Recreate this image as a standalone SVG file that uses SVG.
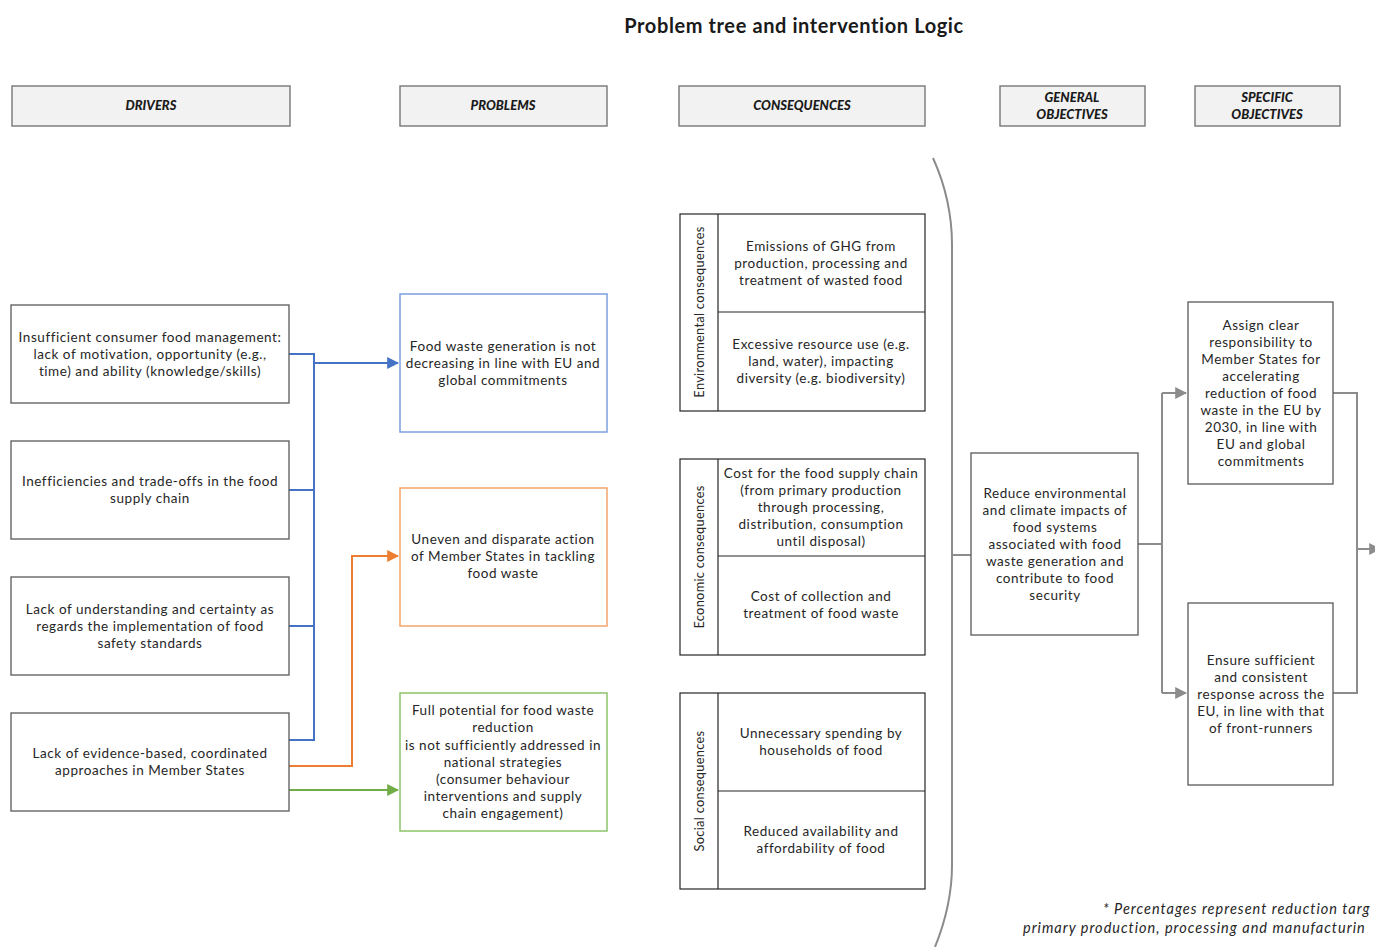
<svg xmlns="http://www.w3.org/2000/svg" width="1375" height="947" viewBox="0 0 1375 947">
<defs>
<style>
.t{font-family:Lato,"Open Sans","Liberation Sans",sans-serif;font-size:13.5px;fill:#262626;text-anchor:middle;letter-spacing:0.55px}
.v{font-family:Lato,"Open Sans","Liberation Sans",sans-serif;font-size:12.8px;fill:#262626;text-anchor:middle;letter-spacing:0.3px}
.h{font-family:Lato,"Open Sans","Liberation Sans",sans-serif;font-size:13px;font-weight:900;font-style:italic;fill:#1a1a1a;text-anchor:middle}
.hb{fill:#f2f2f2;stroke:#7f7f7f;stroke-width:1.5}
.bx{fill:#fff;stroke:#595959;stroke-width:1.3}
.cx{fill:#fff;stroke:#262626;stroke-width:1.2}
.gl{fill:none;stroke:#8c8c8c;stroke-width:2}
.bl{fill:none;stroke:#4472c4;stroke-width:2}
.or{fill:none;stroke:#ed7d31;stroke-width:2}
.gr{fill:none;stroke:#70ad47;stroke-width:2}
</style>
<marker id="ab" viewBox="0 0 10 10" refX="9" refY="5" markerWidth="6" markerHeight="6" orient="auto"><path d="M0,0L10,5L0,10z" fill="#4472c4"/></marker>
<marker id="ao" viewBox="0 0 10 10" refX="9" refY="5" markerWidth="6" markerHeight="6" orient="auto"><path d="M0,0L10,5L0,10z" fill="#ed7d31"/></marker>
<marker id="ag" viewBox="0 0 10 10" refX="9" refY="5" markerWidth="6" markerHeight="6" orient="auto"><path d="M0,0L10,5L0,10z" fill="#70ad47"/></marker>
<marker id="ay" viewBox="0 0 10 10" refX="9" refY="5" markerWidth="6" markerHeight="6" orient="auto"><path d="M0,0L10,5L0,10z" fill="#8c8c8c"/></marker>
</defs>
<rect width="1375" height="947" fill="#fff"/>
<text x="794" y="33" style="font-family:Lato,'Open Sans','Liberation Sans',sans-serif;font-size:20px;font-weight:bold;fill:#1a1a1a;text-anchor:middle;letter-spacing:0.6px">Problem tree and intervention Logic</text>

<g id="headers">
<g id="h-drivers"><rect class="hb" x="12" y="86" width="278" height="40"/><text class="h" x="151" y="110">DRIVERS</text></g>
<g id="h-problems"><rect class="hb" x="400" y="86" width="207" height="40"/><text class="h" x="503" y="110">PROBLEMS</text></g>
<g id="h-consequences"><rect class="hb" x="679" y="86" width="246" height="40"/><text class="h" x="802" y="110">CONSEQUENCES</text></g>
<g id="h-general"><rect class="hb" x="1000" y="86" width="145" height="40"/><text class="h" x="1072" y="102">GENERAL</text><text class="h" x="1072" y="119">OBJECTIVES</text></g>
<g id="h-specific"><rect class="hb" x="1195" y="86" width="145" height="40"/><text class="h" x="1267" y="102">SPECIFIC</text><text class="h" x="1267" y="119">OBJECTIVES</text></g>
</g>

<g id="connectors">
<path class="bl" d="M289,354H314V740H289M289,490H314M289,626H314"/>
<path class="bl" d="M314,363H398" marker-end="url(#ab)"/>
<path class="or" d="M289,766H352V556H398" marker-end="url(#ao)"/>
<path class="gr" d="M289,790H398" marker-end="url(#ag)"/>
<path fill="none" stroke="#8c8c8c" stroke-width="2" d="M933,158Q952,200 952,245V865Q952,905 935,947"/>
<path class="gl" d="M952,555H971"/>
<path class="gl" d="M1138,544H1162M1162,393V693"/>
<path class="gl" d="M1162,393H1186" marker-end="url(#ay)"/>
<path class="gl" d="M1162,693H1186" marker-end="url(#ay)"/>
<path class="gl" d="M1333,393H1357V693H1333M1357,549H1380" marker-end="url(#ay)"/>
</g>

<g id="driver1"><rect class="bx" x="11" y="305" width="278" height="98"/>
<text class="t" x="150" y="342">Insufficient consumer food management:</text>
<text class="t" x="150" y="359">lack of motivation, opportunity (e.g.,</text>
<text class="t" x="150" y="376">time) and ability (knowledge/skills)</text></g>
<g id="driver2"><rect class="bx" x="11" y="441" width="278" height="98"/>
<text class="t" x="150" y="486">Inefficiencies and trade-offs in the food</text>
<text class="t" x="150" y="503">supply chain</text></g>
<g id="driver3"><rect class="bx" x="11" y="577" width="278" height="98"/>
<text class="t" x="150" y="614">Lack of understanding and certainty as</text>
<text class="t" x="150" y="631">regards the implementation of food</text>
<text class="t" x="150" y="648">safety standards</text></g>
<g id="driver4"><rect class="bx" x="11" y="713" width="278" height="98"/>
<text class="t" x="150" y="758">Lack of evidence-based, coordinated</text>
<text class="t" x="150" y="775">approaches in Member States</text></g>

<g id="problem1"><rect x="400" y="294" width="207" height="138" fill="#fff" stroke="#7b9fe0" stroke-width="1.5"/>
<text class="t" x="503" y="351">Food waste generation is not</text>
<text class="t" x="503" y="368">decreasing in line with EU and</text>
<text class="t" x="503" y="385">global commitments</text></g>
<g id="problem2"><rect x="400" y="488" width="207" height="138" fill="#fff" stroke="#f4a46b" stroke-width="1.5"/>
<text class="t" x="503" y="544">Uneven and disparate action</text>
<text class="t" x="503" y="561">of Member States in tackling</text>
<text class="t" x="503" y="578">food waste</text></g>
<g id="problem3"><rect x="400" y="693" width="207" height="138" fill="#fff" stroke="#8cc46a" stroke-width="1.5"/>
<text class="t" x="503" y="715">Full potential for food waste</text>
<text class="t" x="503" y="732">reduction</text>
<text class="t" x="503" y="750">is not sufficiently addressed in</text>
<text class="t" x="503" y="767">national strategies</text>
<text class="t" x="503" y="784">(consumer behaviour</text>
<text class="t" x="503" y="801">interventions and supply</text>
<text class="t" x="503" y="818">chain engagement)</text></g>

<g id="env"><rect class="cx" x="680" y="214" width="245" height="197"/>
<path d="M718,214V411M718,312H925" stroke="#262626" stroke-width="1.2"/>
<text class="v" transform="translate(704,312) rotate(-90)">Environmental consequences</text>
<text class="t" x="821" y="251">Emissions of GHG from</text>
<text class="t" x="821" y="268">production, processing and</text>
<text class="t" x="821" y="285">treatment of wasted food</text>
<text class="t" x="821" y="349">Excessive resource use (e.g.</text>
<text class="t" x="821" y="366">land, water), impacting</text>
<text class="t" x="821" y="383">diversity (e.g. biodiversity)</text></g>

<g id="econ"><rect class="cx" x="680" y="459" width="245" height="196"/>
<path d="M718,459V655M718,556H925" stroke="#262626" stroke-width="1.2"/>
<text class="v" transform="translate(704,557) rotate(-90)">Economic consequences</text>
<text class="t" x="821" y="478">Cost for the food supply chain</text>
<text class="t" x="821" y="495">(from primary production</text>
<text class="t" x="821" y="512">through processing,</text>
<text class="t" x="821" y="529">distribution, consumption</text>
<text class="t" x="821" y="546">until disposal)</text>
<text class="t" x="821" y="601">Cost of collection and</text>
<text class="t" x="821" y="618">treatment of food waste</text></g>

<g id="social"><rect class="cx" x="680" y="693" width="245" height="196"/>
<path d="M718,693V889M718,791H925" stroke="#262626" stroke-width="1.2"/>
<text class="v" transform="translate(704,791) rotate(-90)">Social consequences</text>
<text class="t" x="821" y="738">Unnecessary spending by</text>
<text class="t" x="821" y="755">households of food</text>
<text class="t" x="821" y="836">Reduced availability and</text>
<text class="t" x="821" y="853">affordability of food</text></g>

<g id="general"><rect class="bx" x="971" y="453" width="167" height="182"/>
<text class="t" x="1055" y="498">Reduce environmental</text>
<text class="t" x="1055" y="515">and climate impacts of</text>
<text class="t" x="1055" y="532">food systems</text>
<text class="t" x="1055" y="549">associated with food</text>
<text class="t" x="1055" y="566">waste generation and</text>
<text class="t" x="1055" y="583">contribute to food</text>
<text class="t" x="1055" y="600">security</text></g>

<g id="specific1"><rect class="bx" x="1188" y="302" width="145" height="182"/>
<text class="t" x="1261" y="330">Assign clear</text>
<text class="t" x="1261" y="347">responsibility to</text>
<text class="t" x="1261" y="364">Member States for</text>
<text class="t" x="1261" y="381">accelerating</text>
<text class="t" x="1261" y="398">reduction of food</text>
<text class="t" x="1261" y="415">waste in the EU by</text>
<text class="t" x="1261" y="432">2030, in line with</text>
<text class="t" x="1261" y="449">EU and global</text>
<text class="t" x="1261" y="466">commitments</text></g>

<g id="specific2"><rect class="bx" x="1188" y="603" width="145" height="182"/>
<text class="t" x="1261" y="665">Ensure sufficient</text>
<text class="t" x="1261" y="682">and consistent</text>
<text class="t" x="1261" y="699">response across the</text>
<text class="t" x="1261" y="716">EU, in line with that</text>
<text class="t" x="1261" y="733">of front-runners</text></g>

<g id="footnote" style="font-family:Lato,'Open Sans','Liberation Sans',sans-serif;font-size:14.5px;font-style:italic;fill:#262626;letter-spacing:1px">
<text x="1103" y="914">* Percentages represent reduction targ</text>
<text x="1023" y="933">primary production, processing and manufacturin</text>
</g>
</svg>
